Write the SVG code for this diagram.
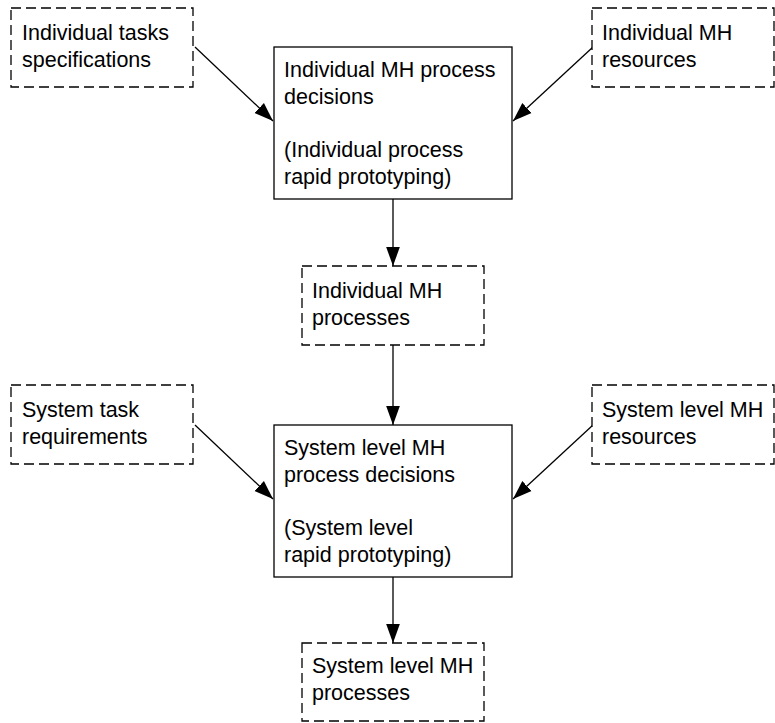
<svg xmlns="http://www.w3.org/2000/svg" width="775" height="723" viewBox="0 0 775 723">
<style>
.d{fill:#fff;stroke:#000;stroke-width:1.3;stroke-dasharray:10,5}
.s{fill:#fff;stroke:#000;stroke-width:1.3}
text{font-family:"Liberation Sans",Arial,sans-serif;font-size:21.5px;fill:#000}
.c{stroke:#000;stroke-width:1.3;fill:none;marker-end:url(#a)}
</style>
<defs>
<marker id="a" viewBox="0 0 10 10" refX="10" refY="5" markerWidth="19" markerHeight="19" markerUnits="userSpaceOnUse" orient="auto">
<path d="M0,1.4 L10,5 L0,8.6 z" fill="#000"/>
</marker>
</defs>
<g id="connectors">
<line class="c" x1="195" y1="47" x2="273" y2="121"/>
<line class="c" x1="593" y1="47" x2="513" y2="121"/>
<line class="c" x1="393" y1="199" x2="393" y2="266"/>
<line class="c" x1="393" y1="345" x2="393" y2="425"/>
<line class="c" x1="195" y1="425" x2="273" y2="499"/>
<line class="c" x1="593" y1="425" x2="513" y2="499"/>
<line class="c" x1="393" y1="577" x2="393" y2="643"/>
</g>
<g id="n1"><rect class="d" x="11" y="8" width="182" height="79"/><text x="22" y="40">Individual tasks</text><text x="22" y="67">specifications</text></g>
<g id="n2"><rect class="d" x="592" y="8" width="182" height="79"/><text x="602" y="40">Individual MH</text><text x="602" y="67">resources</text></g>
<g id="n3"><rect class="s" x="274" y="47" width="238" height="152"/><text x="284" y="77">Individual MH process</text><text x="284" y="104">decisions</text><text x="284" y="157">(Individual process</text><text x="284" y="184">rapid prototyping)</text></g>
<g id="n4"><rect class="d" x="302" y="266" width="182" height="79"/><text x="312" y="298">Individual MH</text><text x="312" y="325">processes</text></g>
<g id="n5"><rect class="d" x="11" y="385" width="182" height="79"/><text x="22" y="417">System task</text><text x="22" y="444">requirements</text></g>
<g id="n6"><rect class="d" x="592" y="385" width="182" height="79"/><text x="602" y="417">System level MH</text><text x="602" y="444">resources</text></g>
<g id="n7"><rect class="s" x="274" y="425" width="238" height="152"/><text x="284" y="455">System level MH</text><text x="284" y="482">process decisions</text><text x="284" y="535">(System level</text><text x="284" y="562">rapid prototyping)</text></g>
<g id="n8"><rect class="d" x="302" y="643" width="182" height="78"/><text x="312" y="673">System level MH</text><text x="312" y="700">processes</text></g>
</svg>
